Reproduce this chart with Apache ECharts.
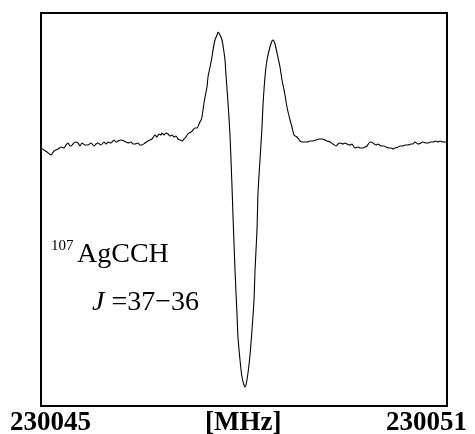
<!DOCTYPE html>
<html>
<head>
<meta charset="utf-8">
<script src="https://cdn.jsdelivr.net/npm/echarts@6/dist/echarts.min.js"></script>
<style>html,body{margin:0;padding:0;background:#fff;}#c{width:475px;height:434px;}</style>
</head>
<body>
<div id="c"></div>
<script>
// Frequency axis (MHz)
const freqStart = 230045;
const freqEnd = 230051;
const tickLabels = ['230045', '230051'];
const axisUnit = '[MHz]';
const moleculeMass = '107';
const moleculeName = 'AgCCH';
const transitionLabel = '=37\u221236';

// Offsets from freqStart (MHz)
const freqOffset = [
0.000,0.044,0.089,0.148,0.192,0.251,0.296,0.340,0.369,0.399,0.429,0.443,0.473,0.502,0.547,0.576,0.606,0.650,0.695,0.739,
0.783,0.813,0.842,0.887,0.931,0.961,0.990,1.034,1.079,1.108,1.138,1.182,1.227,1.256,1.286,1.330,1.360,1.389,1.433,1.463,
1.493,1.537,1.581,1.611,1.640,1.670,1.685,1.714,1.744,1.773,1.788,1.818,1.847,1.877,1.906,1.936,1.966,1.995,2.025,2.054,
2.084,2.113,2.143,2.158,2.187,2.217,2.246,2.276,2.305,2.335,2.365,2.379,2.394,2.409,2.424,2.453,2.468,2.498,2.527,2.542,
2.571,2.601,2.616,2.645,2.675,2.704,2.719,2.734,2.764,2.793,2.823,2.837,2.867,2.897,2.911,2.941,2.970,3.000,3.015,3.030,
3.059,3.089,3.118,3.148,3.163,3.192,3.207,3.236,3.266,3.281,3.310,3.340,3.384,3.414,3.429,3.458,3.488,3.532,3.562,3.606,
3.635,3.680,3.709,3.739,3.783,3.828,3.857,3.901,3.931,3.975,4.020,4.064,4.108,4.153,4.197,4.227,4.271,4.315,4.360,4.389,
4.419,4.463,4.493,4.522,4.567,4.596,4.640,4.685,4.714,4.759,4.788,4.818,4.862,4.906,4.951,4.980,5.025,5.069,5.099,5.143,
5.172,5.202,5.232,5.276,5.305,5.350,5.379,5.424,5.468,5.497,5.527,5.571,5.616,5.645,5.690,5.719,5.749,5.793,5.837,5.867,
5.897,5.941,5.970,6.000
];
// Signal intensity (arbitrary units)
const intensity = [
-3,-5,-7,-10,-6,-4,-2,-3,0,2,-1,-1,1,3,2,-1,2,0,0,2,
-1,1,2,0,3,1,3,2,5,3,4,5,4,3,2,3,1,1,2,0,
0,2,4,5,6,9,10,8,11,10,12,10,12,11,9,10,8,9,6,5,
4,6,8,10,12,13,15,17,17,21,25,28,35,42,48,58,68,78,88,95,
105,110,113,110,105,93,85,70,42,10,-42,-70,-125,-170,-192,-215,-232,-240,-242,-240,
-228,-210,-185,-155,-125,-85,-48,-15,18,40,68,85,98,104,105,101,92,78,65,50,
38,25,18,10,8,4,3,3,3,4,4,5,6,6,5,4,3,1,-1,1,
2,1,2,1,0,1,-3,-2,-3,-3,-2,-1,3,2,0,1,-1,-1,-2,-3,
-3,-4,-3,-2,-1,-1,0,0,1,1,3,1,2,3,2,2,3,3,4,3,
4,3,3,3
];
const yMin = -261;
const yMax = 132;

const data = freqOffset.map((f, i) => [freqStart + f, intensity[i]]);

const chart = echarts.init(document.getElementById('c'), null, {renderer: 'canvas'});
const serif = '"Liberation Serif", "Times New Roman", serif';
chart.setOption({
  animation: false,
  backgroundColor: '#fff',
  grid: {left: 41, top: 13, width: 406, height: 393, show: true, borderColor: '#000', borderWidth: 2, backgroundColor: 'transparent'},
  xAxis: {type: 'value', min: freqStart, max: freqEnd, interval: freqEnd - freqStart,
    axisLine: {show: false}, axisTick: {show: false}, axisLabel: {show: false}, splitLine: {show: false}},
  yAxis: {type: 'value', min: yMin, max: yMax,
    axisLine: {show: false}, axisTick: {show: false}, axisLabel: {show: false}, splitLine: {show: false}},
  series: [{type: 'line', data: data, showSymbol: false, smooth: 0.25,
    lineStyle: {color: '#000', width: 1.1}, silent: true}],
  graphic: [
    {type: 'text', left: 10, top: 410, style: {text: tickLabels[0], font: 'bold 27px ' + serif, fill: '#000'}},
    {type: 'text', left: 205, top: 410, style: {text: axisUnit, font: 'bold 27px ' + serif, fill: '#000'}},
    {type: 'text', right: 8, top: 410, style: {text: tickLabels[1], font: 'bold 27px ' + serif, fill: '#000'}},
    {type: 'text', left: 51, top: 239, style: {text: moleculeMass, font: '15px ' + serif, fill: '#000'}},
    {type: 'text', left: 77, top: 241, style: {text: moleculeName, font: '28px ' + serif, fill: '#000'}},
    {type: 'text', left: 92, top: 289, style: {text: '{i|J} ' + transitionLabel, font: '28px ' + serif, fill: '#000',
      rich: {i: {font: 'italic 28px ' + serif, fill: '#000'}}}}
  ]
});
</script>
</body>
</html>
